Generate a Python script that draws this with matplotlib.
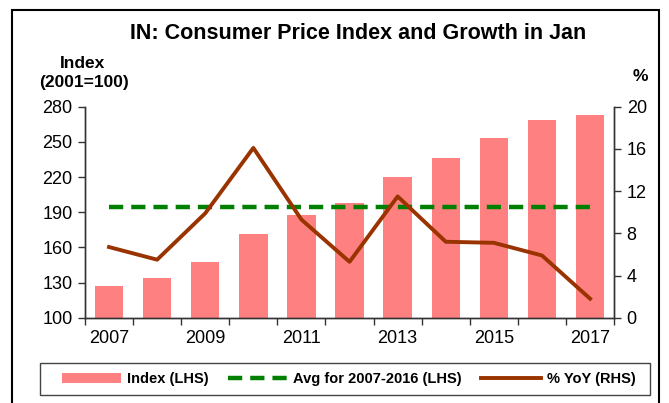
import matplotlib
matplotlib.use('Agg')
import matplotlib.pyplot as plt
from matplotlib.patches import Rectangle
import numpy as np

plt.rcParams['font.family'] = ['Liberation Sans', 'DejaVu Sans']

years = [2007, 2008, 2009, 2010, 2011, 2012, 2013, 2014, 2015, 2016, 2017]
index_vals = [127, 134, 147.5, 171.4, 187.6, 197.6, 220.3, 236.5, 253.3, 268.7, 273.2]
yoy_vals = [6.7, 5.5, 9.9, 16.1, 9.3, 5.3, 11.5, 7.2, 7.1, 5.9, 1.8]
avg_2007_2016 = 194.4
year_labels = ['2007', '2009', '2011', '2013', '2015', '2017']

x = np.arange(len(years))

fig = plt.figure(figsize=(6.69, 4.03), dpi=100)
ax = fig.add_axes([0.127, 0.2117, 0.791, 0.5233])
ax2 = ax.twinx()

# bars + average line on the left axis
bars = ax.bar(x, index_vals, width=0.59, color='#FF8080', zorder=2, label='Index (LHS)')
avg_line, = ax.plot([x[0], x[-1]], [avg_2007_2016, avg_2007_2016], color='#008000', lw=3.2,
                    dashes=(3.2, 1.8), zorder=3, label='Avg for 2007-2016 (LHS)')
ax.set_ylim(100, 280)
ax.set_yticks(np.arange(100, 281, 30))
ax.set_xlim(-0.5, len(years) - 0.5)

# yoy line on the right axis
yoy_line, = ax2.plot(x, yoy_vals, color='#993300', lw=2.8, zorder=4, label='% YoY (RHS)')
ax2.set_ylim(0, 20)
ax2.set_yticks(np.arange(0, 21, 4))

# x ticks: marks at category boundaries, labels every other year
ax.set_xticks(np.arange(-0.5, len(years), 1.0))
ax.set_xticklabels([])
ax.set_xticks(x[::2], minor=True)
ax.set_xticklabels(year_labels, minor=True)
ax.tick_params(axis='x', which='major', length=5, width=1, color='#333333')
ax.tick_params(axis='x', which='minor', length=0, labelsize=13, pad=9)
ax.tick_params(axis='y', length=5, width=1, color='#333333', labelsize=13, pad=4)
ax2.tick_params(axis='y', length=5, width=1, color='#333333', labelsize=13, pad=4)

for a in (ax, ax2):
    a.spines['top'].set_visible(False)
    for s in ('left', 'right', 'bottom'):
        a.spines[s].set_color('#333333')
        a.spines[s].set_linewidth(1)

fig.text(0.535, 0.918, 'IN: Consumer Price Index and Growth in Jan', ha='center',
         va='center', fontsize=15.5, fontweight='bold')
fig.text(0.124, 0.842, 'Index', ha='center', va='center', fontsize=12.5, fontweight='bold')
fig.text(0.126, 0.795, '(2001=100)', ha='center', va='center', fontsize=12.5, fontweight='bold')
fig.text(0.957, 0.811, '%', ha='center', va='center', fontsize=12.5, fontweight='bold')

# legend without its own frame, box drawn separately so it can be wider
leg = fig.legend([bars, avg_line, yoy_line],
                 ['Index (LHS)', 'Avg for 2007-2016 (LHS)', '% YoY (RHS)'],
                 loc='center', ncol=3, bbox_to_anchor=(0.521, 0.0596), frameon=False,
                 prop={'weight': 'bold', 'size': 10.5}, handlelength=4.1,
                 handletextpad=0.4, columnspacing=1.3)
fig.patches.append(Rectangle((40 / 669, 1 - 395 / 403), 610 / 669, 32 / 403,
                             transform=fig.transFigure, fill=False, edgecolor='#444444',
                             linewidth=1))

fig.patches.append(Rectangle((12 / 669, -0.05), (659 - 12) / 669, 1 - 10 / 403 + 0.05,
                             transform=fig.transFigure, fill=False, edgecolor='black',
                             linewidth=1.5))

fig.savefig('out.png', dpi=100)
